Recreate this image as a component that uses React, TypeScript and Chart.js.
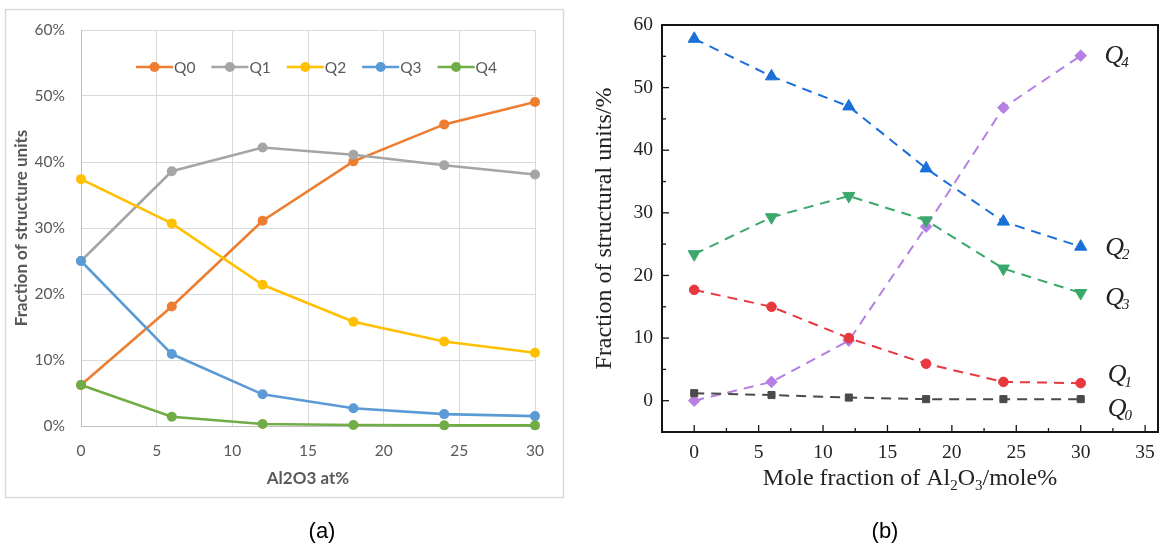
import React, { useEffect, useRef } from 'react';
import { Chart, registerables } from 'chart.js';

Chart.register(...registerables);

// ---------- Panel (a) data ----------
const xA = [0, 6, 12, 18, 24, 30];
const namesA = ['Q0', 'Q1', 'Q2', 'Q3', 'Q4'];
const q0A = [6.2, 18.1, 31.1, 40.1, 45.7, 49.1];
const q1A = [25.0, 38.6, 42.2, 41.1, 39.5, 38.1];
const q2A = [37.4, 30.7, 21.4, 15.8, 12.8, 11.1];
const q3A = [25.0, 10.9, 4.8, 2.7, 1.8, 1.5];
const q4A = [6.2, 1.4, 0.3, 0.15, 0.1, 0.1];
const colorsA = ['#ED7D31', '#A5A5A5', '#FFC000', '#5B9BD5', '#70AD47'];
const xTicksA = [0, 5, 10, 15, 20, 25, 30];
const yTicksA = [0, 10, 20, 30, 40, 50, 60];

// ---------- Panel (b) data ----------
const xB = [0, 6, 12, 18, 24, 30];
const namesB = ['Q0', 'Q1', 'Q2', 'Q3', 'Q4'];
const q0B = [1.2, 0.9, 0.5, 0.25, 0.25, 0.25];
const q1B = [17.7, 15.0, 10.0, 5.9, 3.0, 2.8];
const q2B = [57.8, 51.8, 47.0, 37.1, 28.6, 24.6];
const q3B = [23.4, 29.3, 32.7, 28.8, 21.1, 17.2];
const q4B = [0.0, 3.0, 9.6, 27.8, 46.8, 55.1];
const colorsB = ['#4a4a4a', '#e8383f', '#1a6fd9', '#3aa86b', '#b57fe3'];
const markersB = ['rect', 'circle', 'triangle', 'triangle', 'rectRot'];
const markerRotB = [0, 0, 0, 180, 0];
const markerRadB = [5, 4.8, 7, 7, 5.8];
const xTicksB = [0, 5, 10, 15, 20, 25, 30, 35];
const xMinorB = [2.5, 7.5, 12.5, 17.5, 22.5, 27.5, 32.5];
const yTicksB = [0, 10, 20, 30, 40, 50, 60];
const yMinorB = [5, 15, 25, 35, 45, 55];
const qLabelSubs = ['4', '2', '3', '1', '0'];
const qLabelY = [55.0, 24.3, 16.4, 4.0, -1.3];
const qLabelX = [31.85, 31.9, 31.9, 32.1, 32.1];

const seriesA = [q0A, q1A, q2A, q3A, q4A];
const seriesB = [q0B, q1B, q2B, q3B, q4B];

const frameA = {
  id: 'frameA',
  beforeDraw(chart: any) {
    const ctx = chart.ctx;
    ctx.save();
    ctx.strokeStyle = '#d9d9d9';
    ctx.lineWidth = 1.5;
    ctx.strokeRect(5.5, 9.5, 558, 488);
    ctx.restore();
  },
};

const legendA = {
  id: 'legendA',
  afterDraw(chart: any) {
    const ctx = chart.ctx;
    ctx.save();
    ctx.font = '15.5px Lato';
    ctx.textBaseline = 'middle';
    ctx.textAlign = 'left';
    let x = 136;
    const y = 67;
    chart.data.datasets.forEach((ds: any) => {
      ctx.strokeStyle = ds.borderColor;
      ctx.lineWidth = 2.5;
      ctx.beginPath();
      ctx.moveTo(x, y);
      ctx.lineTo(x + 37, y);
      ctx.stroke();
      ctx.fillStyle = ds.borderColor;
      ctx.beginPath();
      ctx.arc(x + 18.5, y, 5, 0, Math.PI * 2);
      ctx.fill();
      ctx.fillStyle = '#595959';
      ctx.fillText(ds.label, x + 38, y + 1);
      x += 38 + ctx.measureText(ds.label).width + 16;
    });
    ctx.restore();
  },
};

const frameB = {
  id: 'frameB',
  afterDraw(chart: any) {
    const { ctx, chartArea, scales } = chart;
    const { left, right, top, bottom } = chartArea;
    ctx.save();
    ctx.strokeStyle = '#151515';
    ctx.lineWidth = 1.3;
    xTicksB.forEach((v) => {
      const px = scales.x.getPixelForValue(v);
      ctx.beginPath();
      ctx.moveTo(px, bottom);
      ctx.lineTo(px, bottom - 7);
      ctx.stroke();
    });
    xMinorB.forEach((v) => {
      const px = scales.x.getPixelForValue(v);
      ctx.beginPath();
      ctx.moveTo(px, bottom);
      ctx.lineTo(px, bottom - 4);
      ctx.stroke();
    });
    yTicksB.forEach((v) => {
      const py = scales.y.getPixelForValue(v);
      ctx.beginPath();
      ctx.moveTo(left, py);
      ctx.lineTo(left + 7, py);
      ctx.stroke();
    });
    yMinorB.forEach((v) => {
      const py = scales.y.getPixelForValue(v);
      ctx.beginPath();
      ctx.moveTo(left, py);
      ctx.lineTo(left + 4, py);
      ctx.stroke();
    });
    ctx.lineWidth = 2;
    ctx.strokeRect(left, top, right - left, bottom - top);

    // Q labels
    ctx.fillStyle = '#222';
    ctx.textBaseline = 'middle';
    ctx.textAlign = 'left';
    qLabelSubs.forEach((sub, i) => {
      const px = scales.x.getPixelForValue(qLabelX[i]);
      const py = scales.y.getPixelForValue(qLabelY[i]);
      ctx.font = 'italic 26px "Liberation Serif"';
      ctx.fillText('Q', px, py);
      const w = ctx.measureText('Q').width;
      ctx.font = 'italic 15px "Liberation Serif"';
      ctx.fillText(sub, px + w - 2, py + 7);
    });

    // x-axis title with subscripts
    const parts: [string, boolean][] = [
      ['Mole fraction of Al', false],
      ['2', true],
      ['O', false],
      ['3', true],
      ['/mole%', false],
    ];
    const big = '24px "Liberation Serif"';
    const small = '15px "Liberation Serif"';
    let total = 0;
    parts.forEach(([t, s]) => {
      ctx.font = s ? small : big;
      total += ctx.measureText(t).width;
    });
    let x = (left + right) / 2 - total / 2;
    const y = 479;
    ctx.fillStyle = '#222';
    parts.forEach(([t, s]) => {
      ctx.font = s ? small : big;
      ctx.fillText(t, x, s ? y + 7 : y);
      x += ctx.measureText(t).width;
    });
    ctx.restore();
  },
};

export default function App() {
  const refA = useRef<HTMLCanvasElement>(null);
  const refB = useRef<HTMLCanvasElement>(null);

  useEffect(() => {
    const chartA = new Chart(refA.current as HTMLCanvasElement, {
      type: 'line',
      data: {
        datasets: seriesA.map((vals, i) => ({
          label: namesA[i],
          data: xA.map((x, j) => ({ x, y: vals[j] })),
          borderColor: colorsA[i],
          backgroundColor: colorsA[i],
          pointBackgroundColor: colorsA[i],
          pointBorderColor: colorsA[i],
          pointRadius: 5,
          pointBorderWidth: 0,
          borderWidth: 2.6,
          tension: 0,
          order: 5 - i,
          clip: false,
        })),
      },
      options: {
        animation: false,
        responsive: false,
        maintainAspectRatio: false,
        layout: { padding: { left: 0, top: 30, right: 45, bottom: 0 } },
        plugins: { legend: { display: false }, tooltip: { enabled: false } },
        scales: {
          x: {
            type: 'linear',
            min: 0,
            max: 30,
            afterBuildTicks: (s: any) => {
              s.ticks = xTicksA.map((v) => ({ value: v }));
            },
            afterFit: (s: any) => {
              s.height = 123;
            },
            grid: { color: '#d9d9d9', lineWidth: 1, drawTicks: false },
            border: { color: '#bfbfbf' },
            ticks: {
              color: '#595959',
              font: { family: 'Lato', size: 15.5 },
              padding: 16,
              maxRotation: 0,
            },
            title: {
              display: true,
              text: 'Al2O3 at%',
              color: '#595959',
              font: { family: 'Lato', size: 17, weight: 'bold' },
              padding: { top: 0, bottom: 60 },
            },
          },
          y: {
            type: 'linear',
            min: 0,
            max: 60,
            afterBuildTicks: (s: any) => {
              s.ticks = yTicksA.map((v) => ({ value: v }));
            },
            afterFit: (s: any) => {
              s.width = 81;
            },
            grid: { color: '#d9d9d9', lineWidth: 1, drawTicks: false },
            border: { color: '#bfbfbf' },
            ticks: {
              color: '#595959',
              font: { family: 'Lato', size: 15.5 },
              padding: 16,
              callback: (v: any) => v + '%',
            },
            title: {
              display: true,
              text: 'Fraction of structure units',
              color: '#595959',
              font: { family: 'Lato', size: 17, weight: 'bold' },
              padding: { top: 11, bottom: 0 },
            },
          },
        },
      } as any,
      plugins: [frameA, legendA],
    });

    const chartB = new Chart(refB.current as HTMLCanvasElement, {
      type: 'line',
      data: {
        datasets: seriesB.map((vals, i) => ({
          label: namesB[i],
          data: xB.map((x, j) => ({ x, y: vals[j] })),
          borderColor: colorsB[i],
          backgroundColor: colorsB[i],
          pointBackgroundColor: colorsB[i],
          pointBorderColor: colorsB[i],
          pointStyle: markersB[i],
          pointRotation: markerRotB[i],
          pointRadius: markerRadB[i],
          pointBorderWidth: 1,
          borderWidth: 2,
          borderDash: [10, 7],
          tension: 0,
          clip: false,
        })),
      },
      options: {
        animation: false,
        responsive: false,
        maintainAspectRatio: false,
        layout: { padding: { left: 0, top: 25, right: 5, bottom: 0 } },
        plugins: { legend: { display: false }, tooltip: { enabled: false } },
        scales: {
          x: {
            type: 'linear',
            min: -2.5,
            max: 36,
            afterBuildTicks: (s: any) => {
              s.ticks = xTicksB.map((v) => ({ value: v }));
            },
            afterFit: (s: any) => {
              s.height = 117;
            },
            grid: { display: false, drawTicks: false },
            border: { display: false },
            ticks: {
              color: '#222',
              font: { family: 'Liberation Serif', size: 19.5 },
              padding: 9,
              maxRotation: 0,
            },
          },
          y: {
            type: 'linear',
            min: -5,
            max: 60,
            afterBuildTicks: (s: any) => {
              s.ticks = yTicksB.map((v) => ({ value: v }));
            },
            afterFit: (s: any) => {
              s.width = 82;
            },
            grid: { display: false, drawTicks: false },
            border: { display: false },
            ticks: {
              color: '#222',
              font: { family: 'Liberation Serif', size: 19.5 },
              padding: 9,
            },
            title: {
              display: true,
              text: 'Fraction of structural units/%',
              color: '#222',
              font: { family: 'Liberation Serif', size: 24 },
              padding: { top: 10, bottom: 0 },
            },
          },
        },
      } as any,
      plugins: [frameB],
    });

    return () => {
      chartA.destroy();
      chartB.destroy();
    };
  }, []);

  const caption: React.CSSProperties = {
    position: 'absolute',
    top: 531,
    transform: 'translate(-50%, -50%)',
    fontFamily: '"Liberation Sans", Arial, sans-serif',
    fontSize: 22,
    lineHeight: 1,
    color: '#000',
    whiteSpace: 'nowrap',
  };

  return (
    <div
      style={{
        position: 'absolute',
        left: 0,
        top: 0,
        width: 1166,
        height: 549,
        background: '#fff',
        overflow: 'hidden',
      }}
    >
      <canvas
        ref={refA}
        width={580}
        height={549}
        style={{ position: 'absolute', left: 0, top: 0, width: 580, height: 549 }}
      />
      <canvas
        ref={refB}
        width={586}
        height={549}
        style={{ position: 'absolute', left: 580, top: 0, width: 586, height: 549 }}
      />
      <div style={{ ...caption, left: 322 }}>(a)</div>
      <div style={{ ...caption, left: 885 }}>(b)</div>
    </div>
  );
}
